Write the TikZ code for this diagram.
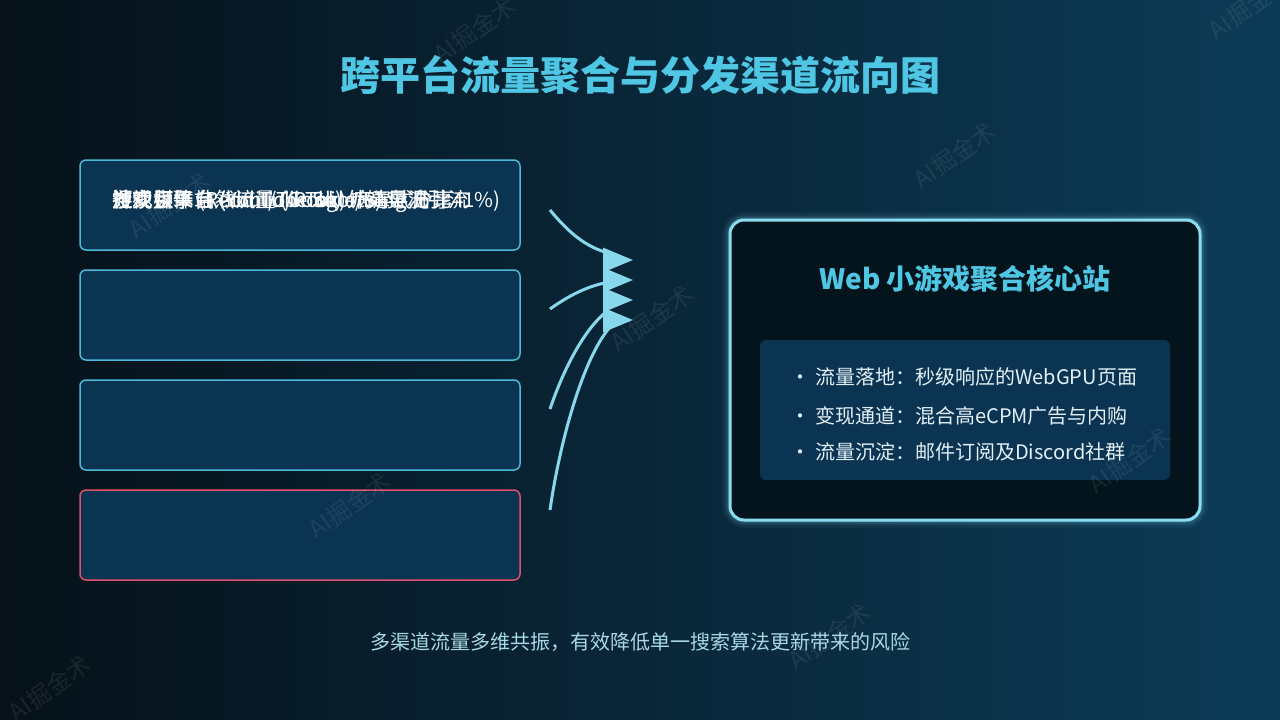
\documentclass[tikz,border=0pt]{standalone}
\usepackage{fontspec}
\setmainfont{Noto Sans CJK SC}
\usetikzlibrary{arrows.meta,calc}
\definecolor{bgL}{HTML}{061119}
\definecolor{bgR}{HTML}{0C3B57}
\definecolor{boxfill}{HTML}{0B3452}
\definecolor{boxline}{HTML}{4BB9D9}
\definecolor{redline}{HTML}{E0506B}
\definecolor{hubfill}{HTML}{03141C}
\definecolor{hubline}{HTML}{8ADDF0}
\definecolor{cyanT}{HTML}{4FC6E3}
\definecolor{flow}{HTML}{88D8EC}
\definecolor{foot}{HTML}{A9D9E6}
\definecolor{itemtxt}{HTML}{E3F1F6}
\tikzset{
  chanbox/.style={draw=boxline, fill=boxfill, line width=1.5pt, rounded corners=6pt,
    minimum width=440pt, minimum height=90pt, inner sep=0pt},
  ovtext/.style={anchor=west, text=white, font=\fontsize{20.5pt}{24pt}\selectfont, inner sep=0pt},
  flowline/.style={draw=flow, line width=3pt},
  flowarrow/.style={draw=flow, line width=3pt, -{Triangle[length=30pt,width=24pt]}},
  wmark/.style={text=white, opacity=0.08, rotate=35, font=\fontsize{24pt}{28pt}\selectfont},
  item/.style={anchor=west, text=itemtxt, font=\fontsize{20pt}{24pt}\selectfont, inner sep=0pt},
  dotb/.style={anchor=center, text=itemtxt, font=\fontsize{20pt}{24pt}\selectfont, inner sep=0pt}
}
\begin{document}
\begin{tikzpicture}[x=1pt,y=-1pt]
\useasboundingbox (0,0) rectangle (1280,720);
\shade[left color=bgL, right color=bgR] (0,0) rectangle (1280,720);

% title
\node[text=cyanT, font=\fontsize{40pt}{44pt}\selectfont\bfseries] (title) at (640,75) {跨平台流量聚合与分发渠道流向图};

% channel boxes
\node[chanbox] (b1) at (300,205) {};
\node[chanbox] (b2) at (300,315) {};
\node[chanbox] (b3) at (300,425) {};
\node[chanbox, draw=redline] (b4) at (300,535) {};

% overlapped labels in box 1
\node[ovtext] (t1a) at (112,201) {搜索引擎自然流量 (Google/Bing 占比41\%)};
\node[ovtext] (t1b) at (112,201) {社交媒体 (Reddit/TikTok) 病毒式分享};
\node[ovtext] (t1c) at (112,201) {短视频平台 (YouTube Shorts) 实况引流};
\node[ovtext] (t1d) at (112,201) {游戏目录站 (itch.io/Poki) 外链导流};

% hub glow
\foreach \w/\o in {16/0.04,12/0.06,8/0.09,5/0.14}{
  \draw[hubline, line width=\w pt, opacity=\o, rounded corners=14pt] (730,220) rectangle (1200,520);
}
\node[draw=hubline, fill=hubfill, line width=3pt, rounded corners=14pt,
      minimum width=470pt, minimum height=300pt, inner sep=0pt] (hub) at (965,370) {};
\node[text=cyanT, font=\fontsize{28pt}{32pt}\selectfont\bfseries] (hubtitle) at (965,279) {Web 小游戏聚合核心站};
\node[fill=boxfill, rounded corners=6pt, minimum width=410pt, minimum height=140pt, inner sep=0pt] (inner) at (965,410) {};

\node[dotb] (d1) at (800,380) {·};
\node[item] (i1) at (815,377) {流量落地：秒级响应的WebGPU页面};
\node[dotb] (d2) at (800,419) {·};
\node[item] (i2) at (815,416) {变现通道：混合高eCPM广告与内购};
\node[dotb] (d3) at (800,455) {·};
\node[item] (i3) at (815,452) {流量沉淀：邮件订阅及Discord社群};

% flow arrows
\coordinate (s1) at (550,210);
\coordinate (s2) at (550,309);
\coordinate (s3) at (550,409);
\coordinate (s4) at (550,510);
\coordinate (p1) at (605,252);
\coordinate (p2) at (605,283);
\coordinate (p3) at (606,312);
\coordinate (p4) at (614,323);
\coordinate (a1) at (603,260);
\coordinate (a2) at (603,280);
\coordinate (a3) at (603,300);
\coordinate (a4) at (603,320);
\coordinate (e1) at (633,260);
\coordinate (e2) at (633,280);
\coordinate (e3) at (633,300);
\coordinate (e4) at (633,320);
\draw[flowline] (s1) .. controls (568,232) and (585,246) .. (p1);
\draw[flowline] (s2) .. controls (568,296) and (588,286) .. (p2);
\draw[flowline] (s3) .. controls (564,368) and (584,330) .. (p3);
\draw[flowline] (s4) .. controls (560,440) and (585,350) .. (p4);
\draw[flowarrow] (a1) -- (e1);
\draw[flowarrow] (a2) -- (e2);
\draw[flowarrow] (a3) -- (e3);
\draw[flowarrow] (a4) -- (e4);

% footer
\node[text=foot, font=\fontsize{20pt}{24pt}\selectfont] (footer) at (640,642) {多渠道流量多维共振，有效降低单一搜索算法更新带来的风险};

% watermarks
\node[wmark] (w1) at (475,30) {AI掘金术};
\node[wmark] (w2) at (955,155) {AI掘金术};
\node[wmark] (w3) at (170,205) {AI掘金术};
\node[wmark] (w4) at (652,318) {AI掘金术};
\node[wmark] (w5) at (350,505) {AI掘金术};
\node[wmark] (w6) at (1130,460) {AI掘金术};
\node[wmark] (w7) at (830,636) {AI掘金术};
\node[wmark] (w8) at (50,688) {AI掘金术};
\node[wmark] (w9) at (1250,6) {AI掘金术};
\end{tikzpicture}
\end{document}
